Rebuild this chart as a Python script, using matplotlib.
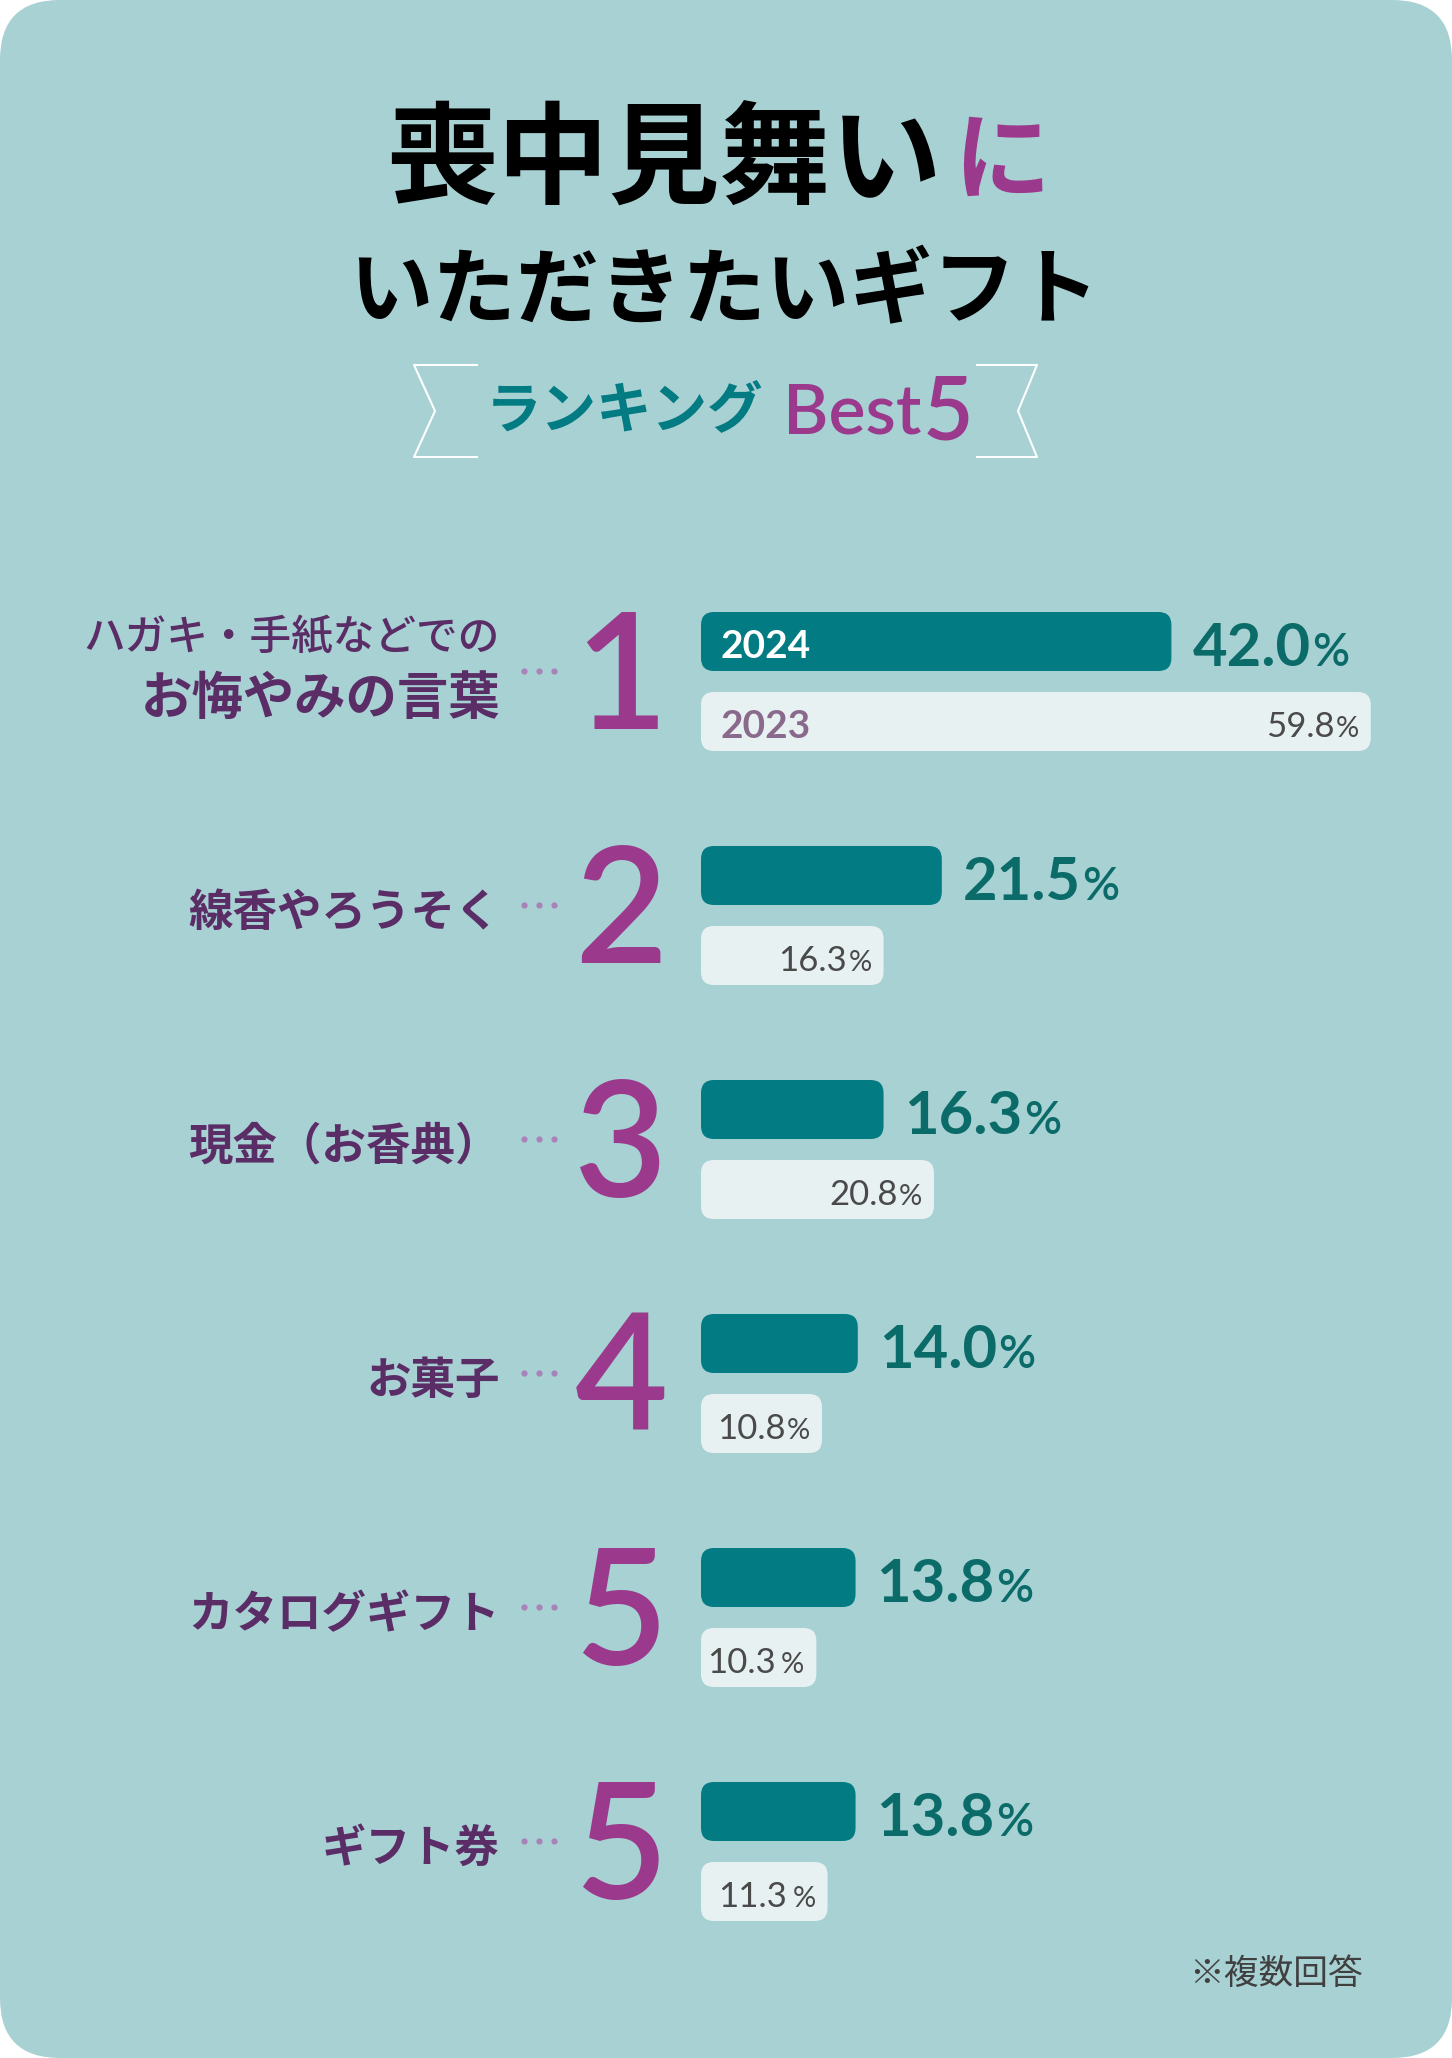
import matplotlib.pyplot as plt
from matplotlib.patches import FancyBboxPatch

plt.rcParams['font.family'] = ['Noto Sans CJK JP', 'DejaVu Sans']

# data
categories = ["ハガキ・手紙などでの\nお悔やみの言葉", "線香やろうそく", "現金（お香典）",
              "お菓子", "カタログギフト", "ギフト券"]
ranks = ["1", "2", "3", "4", "5", "5"]
v2024 = [42.0, 21.5, 16.3, 14.0, 13.8, 13.8]
v2023 = [59.8, 16.3, 20.8, 10.8, 10.3, 11.3]
lab2023 = ["59.8", "16.3", "20.8", "10.8", "10.3 ", "11.3 "]

# colours
BG = '#a8d1d4'
TEAL = '#027b83'
TEALTXT = '#0b6b69'
LIGHT = '#e8f1f2'
PURPLE = '#9b3a8c'
PLUM = '#5b2d66'
DOT = '#a883b8'
GRAY = '#4a4a4a'
NUM = ['Lato', 'DejaVu Sans']

W, H = 1452, 2058
fig = plt.figure(figsize=(W / 100, H / 100), dpi=100)
fig.patch.set_facecolor('white')

bg = fig.add_axes([0, 0, 1, 1])
bg.set_xlim(0, W)
bg.set_ylim(H, 0)
bg.axis('off')
bg.add_patch(FancyBboxPatch((0, 0), W, H, boxstyle="round,pad=0,rounding_size=60",
                            fc=BG, ec='none'))

# title
t1 = bg.text(386, 195, "喪中見舞い", fontsize=80, fontweight='bold', color='black',
             ha='left', va='baseline')
bg.annotate("に", xy=(1, 192), xycoords=(t1, 'data'), xytext=(8, 0), textcoords='offset points',
            fontsize=70, fontweight='bold', color=PURPLE, ha='left', va='baseline')
bg.text(724, 293, "いただきたいギフト", fontsize=60, fontweight='bold', color='black',
        ha='center', va='center')

# banner
bg.plot([477, 414, 435, 414, 477], [365, 365, 411, 457, 457], color='white', lw=1.5)
bg.plot([977, 1037, 1018, 1037, 977], [365, 365, 411, 457, 457], color='white', lw=1.5)
bg.text(486, 411, "ランキング", fontsize=40, fontweight='bold', color=TEAL, ha='left', va='center')
tb = bg.text(783, 433, "Best", fontsize=50, fontweight='semibold', family=NUM, color=PURPLE,
             ha='left', va='baseline')
bg.annotate("5", xy=(1, 440), xycoords=(tb, 'data'), xytext=(1, 0), textcoords='offset points',
            fontsize=63, fontweight='semibold', family=NUM, color=PURPLE, ha='left',
            va='baseline')

# bars axes: x in percent
PX = 11.2
X0 = 701
bx = fig.add_axes([X0 / W, 0, (W - X0) / W, 1])
bx.set_xlim(0, (W - X0) / PX)
bx.set_ylim(H, 0)
bx.axis('off')
bx.patch.set_alpha(0)

TOP0, STEP, BH, GAP, R = 612, 234, 59, 21, 13
rs = f"round,pad=0,rounding_size={R / PX}"

for i in range(len(categories)):
    top = TOP0 + i * STEP
    top2 = top + BH + GAP
    bx.add_patch(FancyBboxPatch((0, top), v2024[i], BH, boxstyle=rs, mutation_aspect=PX,
                                fc=TEAL, ec='none'))
    bx.add_patch(FancyBboxPatch((0, top2), v2023[i], BH, boxstyle=rs, mutation_aspect=PX,
                                fc=LIGHT, ec='none'))

    # 2024 value
    tv = bx.text(v2024[i] + 21 / PX, top + 54, f"{v2024[i]:.1f}", fontsize=43, fontweight='bold',
                 family=NUM, color=TEALTXT, ha='left', va='baseline')
    bx.annotate("%", xy=(1, top + 54), xycoords=(tv, 'data'), xytext=(1, 0),
                textcoords='offset points', fontsize=33, fontweight='semibold',
                family=NUM, color=TEALTXT, ha='left', va='baseline')

    # 2023 value (a trailing space in the label leaves a small gap before %)
    tp = bx.text(v2023[i] - 12 / PX, top2 + 45, "%", fontsize=21,
                 family=NUM, color=GRAY, ha='right', va='baseline')
    gap = -4 if lab2023[i].endswith(" ") else -1
    bx.annotate(lab2023[i].strip(), xy=(0, top2 + 45), xycoords=(tp, 'data'), xytext=(gap, 0),
                textcoords='offset points', fontsize=25, family=NUM,
                color=GRAY, ha='right', va='baseline')

    if i == 0:
        bx.text(20 / PX, top + 46, "2024", fontsize=28, fontweight='bold',
                family=NUM, color='white', ha='left', va='baseline')
        bx.text(20 / PX, top2 + 46, "2023", fontsize=28, fontweight='bold',
                family=NUM, color='#8a6a8c', ha='left', va='baseline')

    # rank number and dots
    bg.text(621, top + 117, ranks[i], fontsize=116, fontweight='semibold', family=NUM,
            color=PURPLE, ha='center', va='baseline')
    bg.plot([524, 539, 554], [top + 59] * 3, 'o', ms=4.5, color=DOT, mec='none')

    # category label
    lines = categories[i].split("\n")
    if len(lines) == 2:
        bg.text(500, top + 25, lines[0], fontsize=30, fontweight='medium', color=PLUM,
                ha='right', va='center')
        bg.text(500, top + 86, lines[1], fontsize=37, fontweight='bold', color=PLUM,
                ha='right', va='center')
    else:
        bg.text(500, top + 67, lines[0], fontsize=32, fontweight='bold', color=PLUM,
                ha='right', va='center')

bg.text(1363, 1974, "※複数回答", fontsize=25, color='#404040', ha='right', va='center')

fig.savefig('out.png', dpi=100)
